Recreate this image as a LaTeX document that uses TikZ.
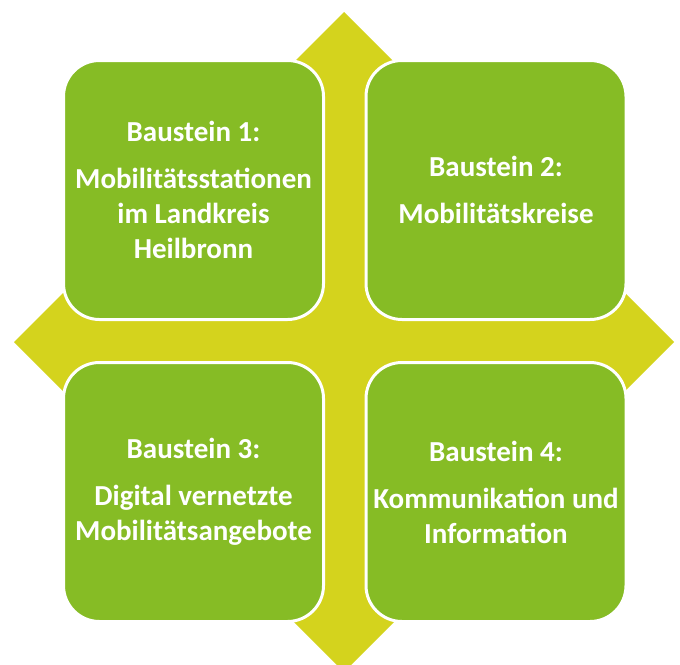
\documentclass[tikz,border=0pt]{standalone}
\usepackage{fontspec}
\setmainfont{Carlito}

\definecolor{bausteingreen}{RGB}{134,188,37}
\definecolor{crossyellow}{RGB}{212,211,29}

\begin{document}
\begin{tikzpicture}[x=1pt, y=-1pt,
    baustein/.style={draw=white, line width=3pt, fill=bausteingreen,
        rounded corners=36pt, minimum width=260pt, minimum height=259pt,
        text=white, align=center,
        font=\fontsize{29}{35}\selectfont\bfseries}]

    % Frame
    \useasboundingbox (0, 0) rectangle (680, 664);

    % Four-way arrow behind the blocks
    \fill[crossyellow] (344, 12) -- (424, 92) -- (404, 92) -- (404, 282)
        -- (594, 282) -- (594, 262) -- (674, 342) -- (594, 422) -- (594, 402)
        -- (404, 402) -- (404, 592) -- (424, 592) -- (344, 672) -- (264, 592)
        -- (284, 592) -- (284, 402) -- (94, 402) -- (94, 422) -- (14, 342)
        -- (94, 262) -- (94, 282) -- (284, 282) -- (284, 92) -- (264, 92) -- cycle;

    % Building blocks
    \node[baustein] (b1) at (193.5, 190) {Baustein 1:\\[12pt]Mobilitätsstationen\\im Landkreis\\Heilbronn};
    \node[baustein] (b2) at (496, 190) {Baustein 2:\\[12pt]Mobilitätskreise};
    \node[baustein] (b3) at (193.5, 492) {Baustein 3:\\[12pt]Digital vernetzte\\Mobilitätsangebote};
    \node[baustein] (b4) at (496, 492) {Baustein 4:\\[12pt]Kommunikation und\\Information};

\end{tikzpicture}
\end{document}
